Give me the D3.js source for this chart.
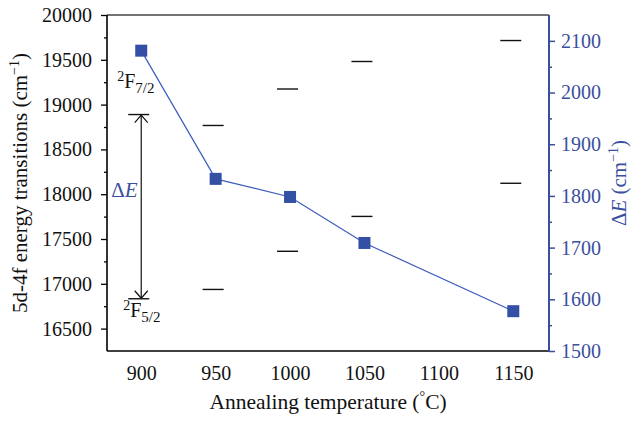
<!DOCTYPE html>
<html>
<head>
<meta charset="utf-8">
<script src="https://cdn.jsdelivr.net/npm/d3@7"></script>
<style>
  body { margin: 0; background: #fff; }
</style>
</head>
<body>
<div id="chart"></div>
<script>
// annealing temperatures (°C)
const temps = [900, 950, 1000, 1050, 1150];
// ΔE, right axis (cm^-1)
const deltaE = [2081, 1833, 1798, 1709, 1577];
// 2F7/2 and 2F5/2 levels, left axis (cm^-1)
const level72 = [18889, 18767, 19174, 19481, 19715];
const level52 = [16833, 16937, 17363, 17752, 18122];
const xTicks = [900, 950, 1000, 1050, 1100, 1150];
const leftTicks = [16500, 17000, 17500, 18000, 18500, 19000, 19500, 20000];
const rightTicks = [1500, 1600, 1700, 1800, 1900, 2000, 2100];

const width = 632, height = 421;
const plotLeft = 107, plotRight = 549, plotTop = 15, plotBottom = 351;
const serif = '"Liberation Serif", "Times New Roman", serif';
const blue = '#3a4f9e';
const markBlue = '#3350a5';

const svg = d3.select('#chart').append('svg')
  .attr('width', width)
  .attr('height', height)
  .style('font-family', serif);

const x = d3.scaleLinear().domain([877, 1174]).range([plotLeft, plotRight]);
const yL = d3.scaleLinear().domain([16250, 20000]).range([plotBottom, plotTop]);
const yR = d3.scaleLinear().domain([1500, 2150]).range([plotBottom, plotTop]);

// left axis
const gL = svg.append('g').attr('transform', `translate(${plotLeft},0)`)
  .call(d3.axisLeft(yL).tickValues(leftTicks).tickSize(6).tickPadding(9).tickFormat(d3.format('d')));
gL.append('g').call(d3.axisLeft(yL).tickValues(d3.range(16750, 20000, 500)).tickSize(3).tickFormat(''));
gL.selectAll('.domain').remove();
gL.selectAll('line').attr('stroke', '#000').attr('stroke-width', 1.3);
gL.selectAll('text').style('font-family', serif).style('font-size', '20px').attr('fill', '#111');

// right axis
const gR = svg.append('g').attr('transform', `translate(${plotRight},0)`)
  .call(d3.axisRight(yR).tickValues(rightTicks).tickSize(6).tickPadding(6).tickFormat(d3.format('d')));
gR.append('g').call(d3.axisRight(yR).tickValues(d3.range(1550, 2100, 100)).tickSize(3).tickFormat(''));
gR.selectAll('.domain').remove();
gR.selectAll('line').attr('stroke', blue).attr('stroke-width', 1.5);
gR.selectAll('text').style('font-family', serif).style('font-size', '20px').attr('fill', blue);

// bottom axis
const gB = svg.append('g').attr('transform', `translate(0,${plotBottom})`)
  .call(d3.axisBottom(x).tickValues(xTicks).tickSize(0).tickPadding(15).tickFormat(d3.format('d')));
gB.selectAll('.domain').remove();
gB.selectAll('text').style('font-family', serif).style('font-size', '20px').attr('fill', '#111');

// frame
svg.append('line').attr('x1', plotLeft).attr('x2', plotRight).attr('y1', plotTop).attr('y2', plotTop)
  .attr('stroke', '#444').attr('stroke-width', 1.6);
svg.append('line').attr('x1', plotLeft).attr('x2', plotRight).attr('y1', plotBottom).attr('y2', plotBottom)
  .attr('stroke', '#000').attr('stroke-width', 1.6);
svg.append('line').attr('x1', plotLeft).attr('x2', plotLeft).attr('y1', plotTop).attr('y2', plotBottom)
  .attr('stroke', '#000').attr('stroke-width', 1.6);
svg.append('line').attr('x1', plotRight).attr('x2', plotRight).attr('y1', plotTop).attr('y2', plotBottom)
  .attr('stroke', blue).attr('stroke-width', 2);

// energy level dashes
const levels = temps.map((t, i) => ({ t, hi: level72[i], lo: level52[i] }));
const dash = (sel, key) => sel.append('g').selectAll('line').data(levels).join('line')
  .attr('x1', d => x(d.t) - 13).attr('x2', d => x(d.t) + 8)
  .attr('y1', d => yL(d[key])).attr('y2', d => yL(d[key]))
  .attr('stroke', '#111').attr('stroke-width', 1.4);
dash(svg, 'hi');
dash(svg, 'lo');

// ΔE line and squares
const pts = temps.map((t, i) => ({ t, v: deltaE[i] }));
svg.append('path').datum(pts)
  .attr('fill', 'none').attr('stroke', '#3d5cbd').attr('stroke-width', 1.2)
  .attr('d', d3.line().x(d => x(d.t)).y(d => yR(d.v)));
svg.append('g').selectAll('rect').data(pts).join('rect')
  .attr('x', d => x(d.t) - 6).attr('y', d => yR(d.v) - 6)
  .attr('width', 12).attr('height', 12)
  .attr('fill', markBlue);

// double arrow at 900 °C
const ax = x(temps[0]);
const aTop = yL(level72[0]), aBot = yL(level52[0]);
svg.append('line').attr('x1', ax).attr('x2', ax).attr('y1', aTop).attr('y2', aBot)
  .attr('stroke', '#111').attr('stroke-width', 1.2);
svg.append('path').attr('d', `M${ax - 6.5},${aTop + 8}L${ax},${aTop + 0.5}L${ax + 6.5},${aTop + 8}`)
  .attr('fill', 'none').attr('stroke', '#111').attr('stroke-width', 1.2);
svg.append('path').attr('d', `M${ax - 6.5},${aBot - 8}L${ax},${aBot - 0.5}L${ax + 6.5},${aBot - 8}`)
  .attr('fill', 'none').attr('stroke', '#111').attr('stroke-width', 1.2);

// ΔE annotation
const dE = svg.append('text').attr('x', ax - 30).attr('y', 197)
  .attr('font-size', 21).attr('fill', blue);
dE.append('tspan').text('Δ');
dE.append('tspan').attr('font-style', 'italic').text('E');

// term symbols
function term(px, py, sub) {
  const t = svg.append('text').attr('x', px).attr('y', py).attr('fill', '#111');
  t.append('tspan').attr('font-size', 14).attr('dy', -7).text('2');
  t.append('tspan').attr('font-size', 20).attr('dy', 7).text('F');
  t.append('tspan').attr('font-size', 15).attr('dy', 5).text(sub);
}
term(ax - 24, aTop - 27, '7/2');
term(ax - 18, aBot + 18, '5/2');

// axis titles
const tl = svg.append('text')
  .attr('transform', `translate(27,${(plotTop + plotBottom) / 2}) rotate(-90)`)
  .attr('text-anchor', 'middle').attr('font-size', 21).attr('fill', '#111');
tl.append('tspan').text('5d-4f energy transitions (cm');
tl.append('tspan').attr('font-size', 14).attr('dy', -8).text('−1');
tl.append('tspan').attr('dy', 8).text(')');

const tr = svg.append('text')
  .attr('transform', `translate(626,${(plotTop + plotBottom) / 2}) rotate(-90)`)
  .attr('text-anchor', 'middle').attr('font-size', 21).attr('fill', blue);
tr.append('tspan').text('Δ');
tr.append('tspan').attr('font-style', 'italic').text('E');
tr.append('tspan').text(' (cm');
tr.append('tspan').attr('font-size', 14).attr('dy', -8).text('−1');
tr.append('tspan').attr('dy', 8).text(')');

const tb = svg.append('text').attr('x', (plotLeft + plotRight) / 2).attr('y', 409)
  .attr('text-anchor', 'middle').attr('font-size', 21.5).attr('fill', '#111');
tb.append('tspan').text('Annealing temperature (');
tb.append('tspan').attr('font-size', 14).attr('dy', -8).text('°');
tb.append('tspan').attr('dy', 8).text('C)');
</script>
</body>
</html>
